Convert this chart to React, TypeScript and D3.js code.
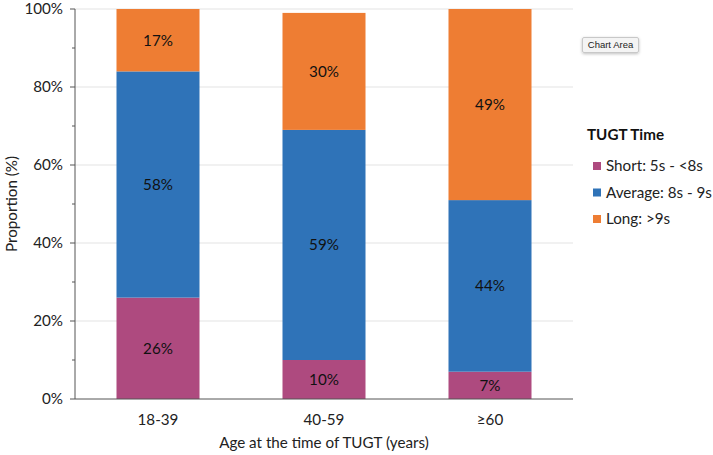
import React from "react";
import * as d3 from "d3";

const categories = ["18-39", "40-59", "≥60"];
const seriesNames = ["Short: 5s - <8s", "Average: 8s - 9s", "Long: >9s"];
const shortVals = [26, 10, 7];
const averageVals = [58, 59, 44];
const longVals = [17, 30, 49];
const yTicks = [0, 20, 40, 60, 80, 100];
const yMinorTicks = [10, 30, 50, 70, 90];
const colors = ["#AE4A7F", "#2F73B8", "#EE7D33"];

const W = 713, H = 455;
const M = { left: 75, right: 573, top: 9, bottom: 399 };
const FONT = "Lato, 'Open Sans', sans-serif";
const FS = 15.2;

export default function App() {
  const x = d3.scaleBand<string>().domain(categories).range([M.left, M.right]).paddingInner(0.5).paddingOuter(0.25);
  const y = d3.scaleLinear().domain([0, 100]).range([M.bottom, M.top]);
  const rows = categories.map((c, i) => ({ cat: c, s0: shortVals[i], s1: averageVals[i], s2: longVals[i] }));
  const stack = d3.stack<any>().keys(["s0", "s1", "s2"]);
  const series = stack(rows);

  return (
    <svg width={W} height={H} style={{ position: "absolute", left: 0, top: 0, background: "#fff" }} fontFamily={FONT}>
      <defs>
        <clipPath id="plotclip">
          <rect x={M.left} y={M.top} width={M.right - M.left} height={M.bottom - M.top} />
        </clipPath>
        <filter id="shadow" x="-20%" y="-40%" width="140%" height="200%">
          <feDropShadow dx="0" dy="1" stdDeviation="1.5" floodColor="#000" floodOpacity="0.25" />
        </filter>
      </defs>
      {yTicks.filter(t => t > 0).map(t => (
        <line key={t} x1={M.left} x2={M.right} y1={y(t)} y2={y(t)} stroke="#e3e3e3" strokeWidth={1} />
      ))}
      <g clipPath="url(#plotclip)">
        {series.map((s, si) => s.map((d, i) => (
          <rect key={si + "-" + i} x={x(categories[i])} width={x.bandwidth()} y={y(d[1])} height={y(d[0]) - y(d[1])} fill={colors[si]} />
        )))}
      </g>
      {series.map((s, si) => s.map((d, i) => {
        const v = [shortVals, averageVals, longVals][si][i];
        const top = Math.min(d[1], 100);
        return (
          <text key={"l" + si + "-" + i} x={(x(categories[i]) as number) + x.bandwidth() / 2} y={y((d[0] + top) / 2)} dy="0.35em" textAnchor="middle" fontSize={FS} fill="#111">{v}%</text>
        );
      }))}
      <line x1={M.left} x2={M.left} y1={M.top} y2={M.bottom} stroke="#555" strokeWidth={1} />
      <line x1={M.left} x2={M.right} y1={M.bottom} y2={M.bottom} stroke="#555" strokeWidth={1} />
      {yTicks.map(t => (
        <g key={"t" + t}>
          <line x1={M.left - 5} x2={M.left} y1={y(t)} y2={y(t)} stroke="#555" />
          <text x={63} y={y(t)} dy="0.35em" textAnchor="end" fontSize={FS} fill="#222">{t}%</text>
        </g>
      ))}
      {yMinorTicks.map(t => (
        <line key={"m" + t} x1={M.left - 3} x2={M.left} y1={y(t)} y2={y(t)} stroke="#555" />
      ))}
      {categories.map(c => (
        <text key={"c" + c} x={(x(c) as number) + x.bandwidth() / 2} y={420} dy="0.35em" textAnchor="middle" fontSize={FS} fill="#222">{c}</text>
      ))}
      <text x={(M.left + M.right) / 2} y={443} dy="0.35em" textAnchor="middle" fontSize={FS} fill="#222">Age at the time of TUGT (years)</text>
      <text transform={`translate(12,${(M.top + M.bottom) / 2}) rotate(-90)`} dy="0.35em" textAnchor="middle" fontSize={FS} fill="#222">Proportion (%)</text>
      <text x={587} y={135} dy="0.35em" fontSize={FS} fontWeight="bold" fill="#111">TUGT Time</text>
      {seriesNames.map((n, i) => (
        <g key={"lg" + i}>
          <rect x={593} y={166 + i * 26.5 - 4} width={8} height={8} fill={colors[i]} />
          <text x={606} y={166 + i * 26.5} dy="0.35em" fontSize={FS} fill="#222">{n}</text>
        </g>
      ))}
      <g filter="url(#shadow)">
        <rect x={582.5} y={37.5} width={56} height={15} fill="#f4f4f4" stroke="#c8c8c8" strokeWidth={1} rx={1.5} />
      </g>
      <text x={610.5} y={45} dy="0.35em" textAnchor="middle" fontSize={9.5} fill="#222" fontFamily="'Liberation Sans', Arial, sans-serif">Chart Area</text>
    </svg>
  );
}
